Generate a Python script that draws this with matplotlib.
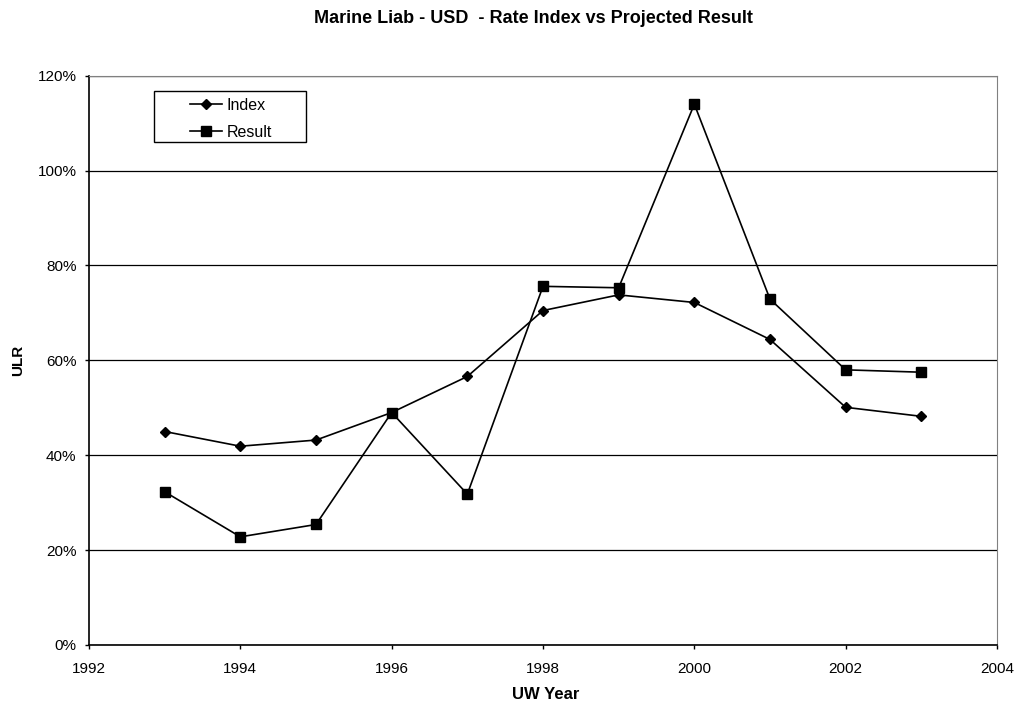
import matplotlib
matplotlib.use("Agg")
import matplotlib.pyplot as plt
from matplotlib.patches import Rectangle
from matplotlib.ticker import FuncFormatter

plt.rcParams['font.family'] = ['Liberation Sans', 'DejaVu Sans']

years = [1993, 1994, 1995, 1996, 1997, 1998, 1999, 2000, 2001, 2002, 2003]
index_ulr = [45.0, 41.9, 43.2, 49.0, 56.6, 70.5, 73.8, 72.2, 64.4, 50.1, 48.2]
result_ulr = [32.3, 22.8, 25.4, 49.0, 31.8, 75.6, 75.3, 114.0, 72.9, 58.0, 57.5]

W, H = 1017, 702
fig = plt.figure(figsize=(W / 100, H / 100), dpi=100)
ax = fig.add_axes([89 / W, 1 - 645 / H, 908 / W, 569.3 / H])

ax.plot(years, index_ulr, color='black', marker='D', markersize=5.5,
        linewidth=1.2, label='Index')
ax.plot(years, result_ulr, color='black', marker='s', markersize=6.5,
        linewidth=1.2, label='Result')

ax.set_xlim(1992, 2004)
ax.set_ylim(0, 120)
ax.set_xticks(range(1992, 2005, 2))
ax.set_yticks(range(0, 121, 20))
ax.yaxis.set_major_formatter(FuncFormatter(lambda v, p: '%d%%' % v))
ax.tick_params(labelsize=11, length=3, width=1, direction='out')
ax.tick_params(axis='x', pad=9)
ax.tick_params(axis='y', pad=6)

# horizontal gridlines only
ax.yaxis.grid(True, color='black', linewidth=0.9)
ax.set_axisbelow(True)
ax.spines['left'].set_linewidth(1.2)
ax.spines['bottom'].set_linewidth(1.2)
ax.spines['top'].set_color('#808080')
ax.spines['right'].set_color('#808080')

ax.set_xlabel('UW Year', fontsize=12, fontweight='bold')
ax.xaxis.set_label_coords(0.503, -0.073)
ax.set_ylabel('ULR', fontsize=11, fontweight='bold')
ax.yaxis.set_label_coords(-0.0705, 0.5)

fig.text(533 / W, 1 - 23.3 / H,
         'Marine Liab - USD  - Rate Index vs Projected Result',
         fontsize=13, fontweight='bold', ha='center', va='baseline')

# legend entries without frame, box drawn separately
leg = ax.legend(loc='upper left', bbox_to_anchor=(190 / W, 1 - 98 / H),
                bbox_transform=fig.transFigure, fontsize=11.5, frameon=False,
                handlelength=2.0, borderpad=0, borderaxespad=0,
                labelspacing=0.75, handletextpad=0.3)
fig.patches.append(Rectangle((154 / W, 1 - 141.7 / H), 152 / W, 50.7 / H,
                             transform=fig.transFigure, fill=False,
                             edgecolor='black', linewidth=1.0))

fig.savefig('out.png', dpi=100)
